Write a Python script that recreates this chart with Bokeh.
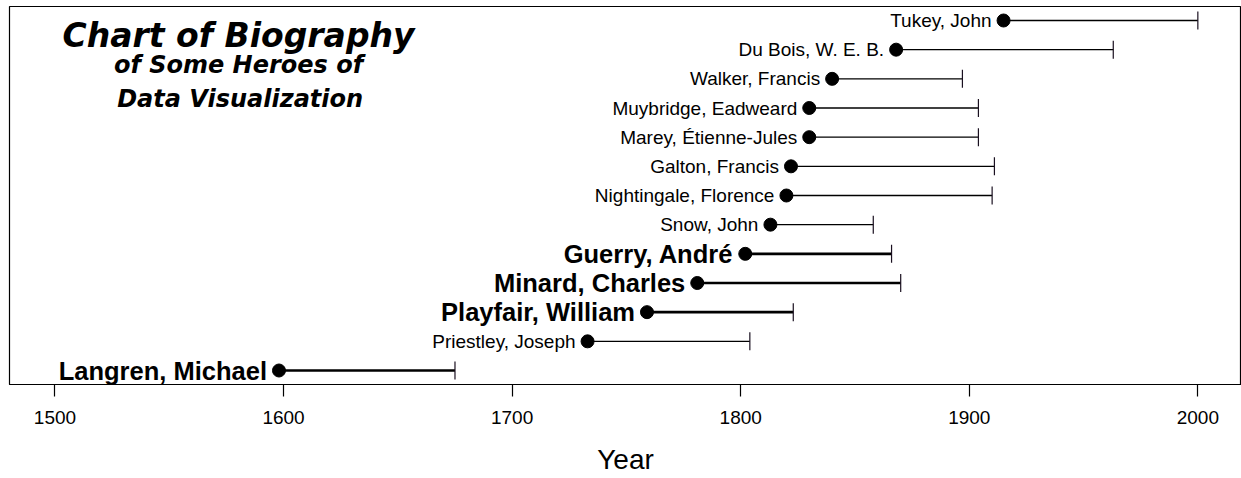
from bokeh.plotting import figure
from bokeh.models import ColumnDataSource, Range1d, FixedTicker
from bokeh.core.properties import value
from bokeh.embed import file_html
from bokeh.resources import INLINE
import math

# ---- data ----
names = ["Langren, Michael", "Priestley, Joseph", "Playfair, William", "Minard, Charles",
         "Guerry, André", "Snow, John", "Nightingale, Florence", "Galton, Francis",
         "Marey, Étienne-Jules", "Muybridge, Eadweard", "Walker, Francis",
         "Du Bois, W. E. B.", "Tukey, John"]
born = [1598, 1733, 1759, 1781, 1802, 1813, 1820, 1822, 1830, 1830, 1840, 1868, 1915]
died = [1675, 1804, 1823, 1870, 1866, 1858, 1910, 1911, 1904, 1904, 1897, 1963, 2000]
bold = [True, False, True, True, True, False, False, False, False, False, False, False, False]
year_ticks = [1500, 1600, 1700, 1800, 1900, 2000]
title_lines = ["Chart of Biography", "of Some Heroes of", "Data Visualization"]
title_x = [1580.3, 1580.3, 1581.0]
title_y = [12.50, 11.48, 10.30]
title_size = ["33px", "24px", "24px"]

rows = list(range(1, len(names) + 1))

def subset(flag):
    idx = [i for i in range(len(names)) if bold[i] == flag]
    return ColumnDataSource(dict(
        name=[names[i] for i in idx],
        born=[born[i] for i in idx],
        died=[died[i] for i in idx],
        row=[rows[i] for i in idx],
    ))

src_n = subset(False)
src_b = subset(True)

p = figure(width=1241, height=478, output_backend="svg", toolbar_location=None,
           x_range=Range1d(1480.1, 2019.1), y_range=Range1d(0.52, 13.48),
           min_border_left=9, min_border_right=0, min_border_top=6, min_border_bottom=94)
p.outline_line_color = "black"
p.outline_line_width = 1.2
p.outline_line_alpha = 1
p.xgrid.visible = False
p.ygrid.visible = False
p.yaxis.visible = False
p.background_fill_color = "white"
p.border_fill_color = "white"

ax = p.xaxis[0]
ax.ticker = FixedTicker(ticks=year_ticks)
ax.minor_tick_line_color = None
ax.major_tick_in = 0
ax.major_tick_out = 12
ax.major_tick_line_color = "black"
ax.major_tick_line_width = 1.2
ax.axis_line_color = "black"
ax.major_label_text_font = "Liberation Sans"
ax.major_label_text_font_size = "19px"
ax.major_label_text_color = "black"
ax.major_label_standoff = 14
ax.axis_label = "Year"
ax.axis_label_text_font = "Liberation Sans"
ax.axis_label_text_font_size = "28px"
ax.axis_label_text_font_style = "normal"
ax.axis_label_text_color = "black"
ax.axis_label_standoff = 17

for src, lw, fs, fstyle in [(src_n, 1.3, "19px", "normal"), (src_b, 2.6, "25.5px", "bold")]:
    p.segment(x0="born", y0="row", x1="died", y1="row", source=src,
              line_color="black", line_width=lw)
    p.scatter(x="died", y="row", source=src, marker="dash", angle=math.pi / 2,
              size=18, line_color="#1a1020", line_width=1.2)
    p.scatter(x="born", y="row", source=src, marker="circle", size=13,
              fill_color="black", line_color="black")
    p.text(x="born", y="row", text="name", source=src, text_align="right",
           text_baseline="middle", x_offset=-12, text_font=value("Liberation Sans"),
           text_font_size=fs, text_font_style=fstyle, text_color="black")

tsrc = ColumnDataSource(dict(x=title_x, y=title_y, t=title_lines, s=title_size))
p.text(x="x", y="y", text="t", source=tsrc, text_align="center", text_baseline="alphabetic",
       text_font=value("DejaVu Sans"), text_font_size="s", text_font_style="bold italic",
       text_color="black")

open("out.html", "w").write(file_html(p, INLINE))
